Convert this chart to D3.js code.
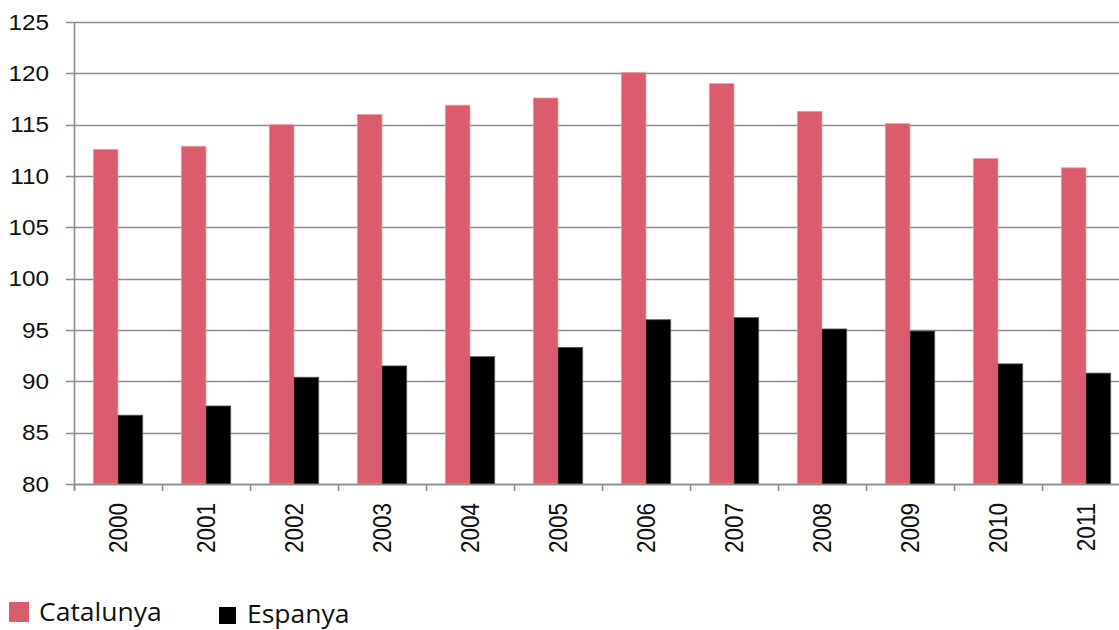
<!DOCTYPE html>
<html>
<head>
<meta charset="utf-8">
<script src="https://cdn.jsdelivr.net/npm/d3@7"></script>
<style>
  html, body { margin: 0; padding: 0; background: #fff; }
  svg { display: block; }
</style>
</head>
<body>
<div class="chart"></div>
<script>
// Catalunya vs Espanya index, 2000-2011 (clustered columns, y axis 80-125)
var years = ['2000', '2001', '2002', '2003', '2004', '2005', '2006', '2007', '2008', '2009', '2010', '2011']
var catalunya = [112.6, 112.9, 115.0, 116.0, 116.9, 117.6, 120.1, 119.0, 116.3, 115.1, 111.7, 110.8]
var espanya   = [86.7, 87.6, 90.4, 91.5, 92.4, 93.3, 96.0, 96.2, 95.1, 94.9, 91.7, 90.8]
var seriesNames = ['Catalunya', 'Espanya']
var yTicks = [80, 85, 90, 95, 100, 105, 110, 115, 120, 125]

var W = 1119, H = 630
var colors = {Catalunya: '#db5c6c', Espanya: '#000000'}
var strokes = {Catalunya: '#eea3ac', Espanya: '#555555'}

// the original picture is a little stretched sideways; text follows suit
var SX = 1.13

var svg = d3.select('.chart').append('svg').attr('width', W).attr('height', H)

// plot box runs a little past the right edge of the picture, as in the original
var plot = {left: 74, right: 1130, top: 22, bottom: 484}

var x = d3.scaleBand().domain(years).range([plot.left, plot.right]).paddingInner(0).paddingOuter(0)
var xs = d3.scaleBand().domain(seriesNames).range([0, x.bandwidth()]).paddingInner(0).paddingOuter(0.78)
var y = d3.scaleLinear().domain([80, 125]).range([plot.bottom, plot.top])

var gridColor = '#8c8c8c'

// horizontal gridlines (with the small tick stub to the left of the axis)
svg.append('g').selectAll('line').data(yTicks).join('line')
  .attr('x1', plot.left - 8).attr('x2', plot.right)
  .attr('y1', function(d){ return Math.round(y(d)) + 0.5 })
  .attr('y2', function(d){ return Math.round(y(d)) + 0.5 })
  .attr('stroke', gridColor).attr('stroke-width', 1.6)

// y axis labels
svg.append('g').selectAll('text').data(yTicks).join('text')
  .attr('transform', function(d){ return 'translate(49,' + (y(d) + 7.8) + ') scale(' + SX + ',1)' })
  .attr('text-anchor', 'end')
  .attr('font-family', 'Liberation Sans, Arial, sans-serif').attr('font-size', 21.5)
  .attr('fill', '#111')
  .text(function(d){ return d })

// bars
var rows = years.map(function(yr, i){ return {year: yr, Catalunya: catalunya[i], Espanya: espanya[i]} })
var groups = svg.append('g').selectAll('g').data(rows).join('g')
  .attr('transform', function(d){ return 'translate(' + x(d.year) + ',0)' })
groups.selectAll('rect').data(function(d){ return seriesNames.map(function(s){ return {s: s, v: d[s]} }) })
  .join('rect')
  .attr('x', function(d){ return xs(d.s) })
  .attr('width', xs.bandwidth())
  .attr('y', function(d){ return y(d.v) })
  .attr('height', function(d){ return plot.bottom - y(d.v) })
  .attr('fill', function(d){ return colors[d.s] })
  .attr('stroke', function(d){ return strokes[d.s] })
  .attr('stroke-width', 0.8)

// axes lines
svg.append('line').attr('x1', plot.left + 0.5).attr('x2', plot.left + 0.5).attr('y1', plot.top).attr('y2', plot.bottom + 6)
  .attr('stroke', gridColor).attr('stroke-width', 1.6)
svg.append('line').attr('x1', plot.left).attr('x2', plot.right).attr('y1', plot.bottom + 0.5).attr('y2', plot.bottom + 0.5)
  .attr('stroke', gridColor).attr('stroke-width', 1.6)

// category boundary ticks below the axis
var bounds = years.map(function(yr){ return x(yr) }).concat([plot.right])
svg.append('g').selectAll('line').data(bounds).join('line')
  .attr('x1', function(d){ return d + 0.5 }).attr('x2', function(d){ return d + 0.5 })
  .attr('y1', plot.bottom).attr('y2', plot.bottom + 7)
  .attr('stroke', gridColor).attr('stroke-width', 1.6)

// x labels, rotated
svg.append('g').selectAll('text').data(years).join('text')
  .attr('transform', function(d){
    return 'translate(' + (x(d) + x.bandwidth() / 2 + 9) + ',503) scale(' + SX + ',1) rotate(-90)'
  })
  .attr('text-anchor', 'end')
  .attr('font-family', 'Liberation Sans, Arial, sans-serif').attr('font-size', 22.5)
  .attr('fill', '#111')
  .text(function(d){ return d })

// legend
var legend = [
  {name: 'Catalunya', sx: 9, sy: 602, size: 20, tx: 39, ty: 621},
  {name: 'Espanya', sx: 219, sy: 607, size: 17, tx: 247, ty: 623}
]
var lg = svg.append('g').selectAll('g').data(legend).join('g')
lg.append('rect')
  .attr('x', function(d){ return d.sx }).attr('y', function(d){ return d.sy })
  .attr('width', function(d){ return d.size }).attr('height', function(d){ return d.size })
  .attr('fill', function(d){ return colors[d.name] })
lg.append('text')
  .attr('transform', function(d){ return 'translate(' + d.tx + ',' + d.ty + ') scale(1.06,1)' })
  .attr('font-family', 'Open Sans, Noto Sans, sans-serif').attr('font-size', 25)
  .attr('fill', '#111')
  .text(function(d){ return d.name })
</script>
</body>
</html>
